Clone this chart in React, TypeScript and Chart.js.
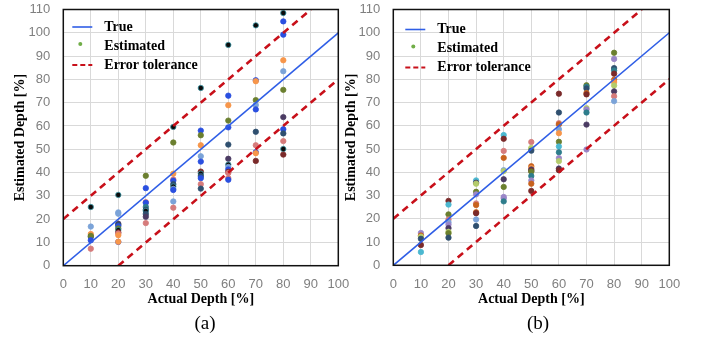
import React, { useEffect, useRef } from "react";
import { Chart, registerables } from "chart.js";

Chart.register(...registerables);

// ---------- data ----------
const actualDepths = [10, 20, 30, 40, 50, 60, 70, 80];

const estimatedA = [
  [25.2, 16.8, 13.6, 12.4, 12.8, 10.9, 7.3],
  [30.4, 22.9, 22.3, 18.0, 17.5, 17.0, 16.0, 15.3, 14.3, 13.8, 13.1, 10.2, 10.3],
  [38.6, 33.3, 27.3, 27.0, 25.2, 24.0, 23.5, 22.2, 21.0, 18.3],
  [59.6, 52.9, 39.5, 37.0, 36.5, 35.0, 34.0, 33.0, 32.5, 27.6, 24.9],
  [76.3, 58.0, 56.0, 51.7, 47.0, 44.7, 40.4, 39.5, 38.5, 37.6, 35.0, 33.1],
  [94.8, 73.0, 68.9, 62.3, 59.4, 52.0, 45.9, 43.4, 42.4, 41.3, 40.3, 39.8, 37.6, 36.9],
  [103.2, 79.6, 79.2, 71.1, 69.0, 67.1, 57.5, 51.7, 48.7, 48.3, 45.0],
  [108.5, 104.9, 99.2, 88.2, 83.5, 75.5, 63.8, 58.6, 56.8, 53.5, 50.1, 47.7],
];

const estimatedB = [
  [13.9, 12.8, 12.3, 11.4, 8.7, 5.7],
  [27.7, 26.1, 21.9, 19.7, 18.5, 17.5, 16.0, 14.4, 13.8, 11.9],
  [36.5, 35.5, 35.1, 31.6, 30.5, 26.6, 25.9, 22.8, 22.4, 19.7, 16.9],
  [56.0, 54.4, 49.2, 46.2, 40.9, 40.5, 37.0, 33.7, 29.4, 28.8, 27.5],
  [53.0, 50.5, 50.0, 49.3, 42.6, 41.8, 41.2, 40.6, 40.3, 38.4, 36.5, 35.1, 32.0],
  [73.8, 65.7, 61.1, 60.6, 58.5, 56.8, 53.1, 51.1, 48.6, 46.1, 44.8, 41.6, 40.9],
  [77.4, 76.8, 76.0, 74.1, 73.5, 67.6, 67.0, 65.7, 60.5, 49.8],
  [91.4, 88.7, 84.8, 83.8, 82.4, 79.8, 78.8, 77.3, 74.8, 72.7, 70.6],
];

const trueX = [0, 100];
const trueY = [0, 100];
const upperTolX = [0, 90];
const upperTolY = [20, 110];
const lowerTolX = [20, 100];
const lowerTolY = [0, 80];

const xTickStep = 10;
const yTickStep = 10;
const xMax = 100;
const yMax = 110;

const legendLabels = ["True", "Estimated", "Error tolerance"];
const xTitle = "Actual Depth [%]";
const yTitle = "Estimated Depth [%]";

// ---------- styles ----------
const palette: Record<string, string> = {
  K: "#0b0b0b",
  B: "#2a4fe0",
  O: "#f7964a",
  G: "#6b7f2f",
  L: "#7ba3d8",
  N: "#2f4f6f",
  P: "#d67b7b",
  U: "#4b3b63",
  R: "#7a2a2a",
  T: "#2e7d8c",
  Y: "#b4cc6c",
  V: "#9a86c8",
  C: "#4bb8d0",
  D: "#c8621e",
};

const colorKeysA = [
  ["K", "L", "O", "N", "G", "B", "P"],
  ["K", "L", "L", "U", "N", "B", "G", "K", "R", "P", "O", "B", "O"],
  ["G", "B", "P", "B", "T", "N", "K", "N", "U", "P"],
  ["K", "G", "O", "P", "B", "N", "K", "L", "B", "L", "P"],
  ["K", "B", "G", "O", "L", "B", "R", "K", "N", "B", "P", "N"],
  ["K", "B", "O", "G", "B", "N", "U", "K", "L", "B", "R", "P", "P", "B"],
  ["K", "B", "O", "G", "L", "B", "N", "P", "B", "O", "R"],
  ["K", "B", "B", "O", "L", "G", "U", "B", "N", "P", "K", "R"],
];

const colorKeysB = [
  ["V", "D", "Y", "N", "R", "C"],
  ["R", "C", "G", "P", "L", "V", "U", "Y", "G", "N"],
  ["C", "U", "Y", "G", "V", "P", "D", "D", "R", "L", "N"],
  ["C", "R", "P", "D", "L", "Y", "U", "G", "V", "V", "T"],
  ["P", "Y", "Y", "N", "D", "O", "U", "R", "G", "T", "V", "D", "R"],
  ["R", "N", "P", "D", "L", "O", "G", "C", "T", "V", "Y", "U", "R"],
  ["G", "T", "N", "D", "R", "Y", "V", "T", "U", "V"],
  ["G", "V", "N", "T", "R", "D", "O", "Y", "U", "P", "L"],
];

const TICK_FONT = { family: "'Liberation Sans', Arial, sans-serif", size: 13 };
const TITLE_FONT = { family: "'Liberation Serif', 'Times New Roman', serif", size: 14, weight: "bold" as const };
const TICK_COLOR = "#7f7f7f";
const TRUE_COLOR = "#2f5ee6";
const TOL_COLOR = "#c8101a";

type Geo = {
  left: number;
  width: number;
  height: number;
  areaLeft: number; // relative
  areaRight: number;
  areaTop: number;
  areaBottom: number;
  yTitlePad: number;
  xTitlePad: number;
  legendDx: number;
  legendDy: number;
};

const framePlugin = {
  id: "frameLegend",
  afterDatasetsDraw(chart: any, _args: any, opts: any) {
    const { ctx, chartArea: a } = chart;
    ctx.save();
    ctx.strokeStyle = "#111";
    ctx.lineWidth = 1.5;
    ctx.strokeRect(a.left, a.top, a.right - a.left, a.bottom - a.top);

    const x0 = a.left + opts.dx;
    const sampleW = 20;
    const textX = x0 + 32;
    const y0 = a.top + opts.dy;
    const gap = 19;
    ctx.font = "bold 14px 'Liberation Serif', 'Times New Roman', serif";
    ctx.fillStyle = "#000";
    ctx.textBaseline = "middle";
    ctx.textAlign = "left";

    // True
    ctx.strokeStyle = TRUE_COLOR;
    ctx.lineWidth = 1.6;
    ctx.setLineDash([]);
    ctx.beginPath();
    ctx.moveTo(x0, y0);
    ctx.lineTo(x0 + sampleW, y0);
    ctx.stroke();
    ctx.fillText(legendLabels[0], textX, y0);

    // Estimated
    ctx.fillStyle = "#70ad47";
    ctx.beginPath();
    ctx.arc(x0 + sampleW / 2 - 2, y0 + gap - 2, 2, 0, Math.PI * 2);
    ctx.fill();
    ctx.fillStyle = "#000";
    ctx.fillText(legendLabels[1], textX, y0 + gap);

    // Error tolerance
    ctx.strokeStyle = TOL_COLOR;
    ctx.lineWidth = 2.2;
    ctx.setLineDash([5, 3]);
    ctx.beginPath();
    ctx.moveTo(x0, y0 + 2 * gap);
    ctx.lineTo(x0 + sampleW, y0 + 2 * gap);
    ctx.stroke();
    ctx.setLineDash([]);
    ctx.fillText(legendLabels[2], textX, y0 + 2 * gap);
    ctx.restore();
  },
};

function pairs(xs: number[], ys: number[]) {
  return xs.map((x, i) => ({ x, y: ys[i] }));
}

function ScatterPanel({ est, keys, geo }: { est: number[][]; keys: string[][]; geo: Geo }) {
  const ref = useRef<HTMLCanvasElement>(null);
  useEffect(() => {
    if (!ref.current) return;
    const pts: { x: number; y: number }[] = [];
    const fills: string[] = [];
    const borders: string[] = [];
    est.forEach((col, i) => {
      col.forEach((v, j) => {
        pts.push({ x: actualDepths[i], y: v });
        const k = keys[i][j] || "B";
        fills.push(palette[k]);
        borders.push(k === "K" ? "#3f9aaa" : palette[k]);
      });
    });
    const chart = new Chart(ref.current, {
      type: "scatter",
      data: {
        datasets: [
          {
            label: legendLabels[2] + " upper",
            data: pairs(upperTolX, upperTolY),
            showLine: true,
            borderColor: TOL_COLOR,
            borderWidth: 2.6,
            borderDash: [7, 5],
            pointRadius: 0,
            order: 1,
          },
          {
            label: legendLabels[2] + " lower",
            data: pairs(lowerTolX, lowerTolY),
            showLine: true,
            borderColor: TOL_COLOR,
            borderWidth: 2.6,
            borderDash: [7, 5],
            pointRadius: 0,
            order: 1,
          },
          {
            label: legendLabels[0],
            data: pairs(trueX, trueY),
            showLine: true,
            borderColor: TRUE_COLOR,
            borderWidth: 1.6,
            pointRadius: 0,
            order: 2,
          },
          {
            label: legendLabels[1],
            data: pts,
            pointRadius: 2.7,
            pointBorderWidth: 0.8,
            pointBackgroundColor: fills,
            pointBorderColor: borders,
            showLine: false,
            order: 3,
          } as any,
        ],
      },
      options: {
        animation: false,
        responsive: false,
        events: [],
        layout: {
          padding: {
            left: 0,
            top: geo.areaTop,
            right: geo.width - geo.areaRight,
            bottom: 0,
          },
        },
        plugins: {
          legend: { display: false },
          tooltip: { enabled: false },
          frameLegend: { dx: geo.legendDx, dy: geo.legendDy },
        } as any,
        scales: {
          x: {
            type: "linear",
            min: 0,
            max: xMax,
            ticks: { stepSize: xTickStep, font: TICK_FONT, color: TICK_COLOR, padding: 11, maxRotation: 0 },
            grid: { color: "#d9d9d9", lineWidth: 1, drawTicks: false },
            border: { display: false },
            title: {
              display: true,
              text: xTitle,
              font: TITLE_FONT,
              color: "#000",
              padding: { top: 0, bottom: geo.xTitlePad },
            },
            afterFit: (s: any) => {
              s.height = geo.height - geo.areaBottom;
              s.paddingLeft = 0;
              s.paddingRight = 0;
            },
          },
          y: {
            type: "linear",
            min: 0,
            max: yMax,
            ticks: { stepSize: yTickStep, font: TICK_FONT, color: TICK_COLOR, padding: 13 },
            grid: { color: "#d9d9d9", lineWidth: 1, drawTicks: false },
            border: { display: false },
            title: {
              display: true,
              text: yTitle,
              font: TITLE_FONT,
              color: "#000",
              padding: { top: geo.yTitlePad, bottom: 0 },
            },
            afterFit: (s: any) => {
              s.width = geo.areaLeft;
              s.paddingTop = 0;
              s.paddingBottom = 0;
            },
          },
        },
      } as any,
      plugins: [framePlugin],
    });
    return () => chart.destroy();
  }, [est, keys, geo]);
  return (
    <canvas
      ref={ref}
      width={geo.width}
      height={geo.height}
      style={{ position: "absolute", left: geo.left, top: 0, width: geo.width, height: geo.height }}
    />
  );
}

const geoA: Geo = {
  left: 0,
  width: 352,
  height: 312,
  areaLeft: 63.3,
  areaRight: 338.3,
  areaTop: 9.5,
  areaBottom: 265.7,
  yTitlePad: 11.9,
  xTitlePad: 4.6,
  legendDx: 9,
  legendDy: 17.5,
};

const geoB: Geo = {
  left: 340,
  width: 364,
  height: 312,
  areaLeft: 53.3,
  areaRight: 329.3,
  areaTop: 9.5,
  areaBottom: 265.3,
  yTitlePad: 2.6,
  xTitlePad: 4.6,
  legendDx: 12,
  legendDy: 20,
};

const captionStyle: React.CSSProperties = {
  position: "absolute",
  top: 311,
  width: 60,
  textAlign: "center",
  fontFamily: "'Liberation Serif', 'Times New Roman', serif",
  fontSize: 19,
  lineHeight: "24px",
  color: "#000",
};

export default function App() {
  return (
    <div
      style={{
        position: "fixed",
        left: 0,
        top: 0,
        width: 704,
        height: 339,
        background: "#fff",
        overflow: "hidden",
      }}
    >
      <ScatterPanel est={estimatedA} keys={colorKeysA} geo={geoA} />
      <ScatterPanel est={estimatedB} keys={colorKeysB} geo={geoB} />
      <div style={{ ...captionStyle, left: 205 - 30 }}>(a)</div>
      <div style={{ ...captionStyle, left: 538 - 30 }}>(b)</div>
    </div>
  );
}
